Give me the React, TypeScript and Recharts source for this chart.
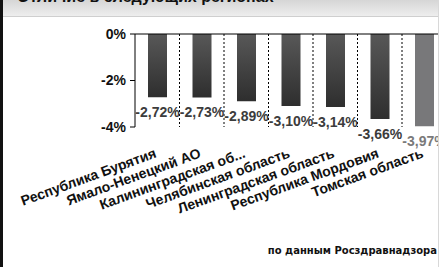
import { BarChart, Bar, XAxis, YAxis, CartesianGrid, ReferenceLine, LabelList, Cell } from 'recharts'

const regions = [
  'Республика Бурятия',
  'Ямало-Ненецкий АО',
  'Калининградская об...',
  'Челябинская область',
  'Ленинградская область',
  'Республика Мордовия',
  'Томская область',
]
const changes = [-2.72, -2.73, -2.89, -3.1, -3.14, -3.66, -3.97]
const yTicks = [0, -2, -4]
const highlight = 'Томская область'

const data = regions.map((name, i) => ({ name, value: changes[i] }))

const fmt = (v: number) => v.toFixed(2).replace('.', ',') + '%'

function RegionTick({ x, y, payload }: any) {
  return (
    <text
      transform={`translate(${x},${y + 30}) rotate(-20)`}
      textAnchor="end"
      fontSize={14}
      fontWeight="bold"
      fill="#111"
      fontFamily="'Liberation Sans', Arial, sans-serif"
    >
      {payload.value}
    </text>
  )
}

function ValueLabel({ x, y, width, height, value, index }: any) {
  const bottom = Math.max(y, y + height)
  const light = regions[index] === highlight
  return (
    <text
      x={x + width / 2}
      y={bottom + 20}
      textAnchor="middle"
      fontSize={14}
      fontWeight="bold"
      fill={light ? '#7a7a7a' : '#3c3c3c'}
      fontFamily="'Liberation Sans', Arial, sans-serif"
    >
      {fmt(value)}
    </text>
  )
}

export default function App() {
  return (
    <div
      style={{
        position: 'absolute',
        left: 0,
        top: 0,
        width: 439,
        height: 267,
        overflow: 'hidden',
        background: '#fff',
        fontFamily: "'Liberation Sans', Arial, sans-serif",
      }}
    >
      <div
        style={{
          position: 'absolute',
          left: 0,
          top: 0,
          width: 439,
          height: 16,
          background: 'linear-gradient(#d6d6d6, #eeeeee)',
          borderBottom: '1px solid #cfcfcf',
          overflow: 'hidden',
        }}
      >
        <div style={{ position: 'absolute', left: 17, top: -11, fontSize: 16, lineHeight: '16px', fontWeight: 'bold', color: '#111', whiteSpace: 'nowrap' }}>
          Отличие в следующих регионах
        </div>
      </div>
      <div style={{ position: 'absolute', left: 0, top: 0 }}>
        <BarChart width={470} height={267} data={data} margin={{ top: 34, right: 23.5, bottom: 40, left: 0 }}>
          <defs>
            <linearGradient id="barGrad" x1="0" y1="0" x2="0" y2="1">
              <stop offset="0%" stopColor="#585858" />
              <stop offset="100%" stopColor="#2e2e2e" />
            </linearGradient>
          </defs>
          <CartesianGrid
            horizontal={false}
            stroke="#000"
            strokeDasharray="2 2"
            verticalCoordinatesGenerator={({ offset }: any) =>
              regions.slice(1).map((_, i) => offset.left + ((i + 1) * offset.width) / regions.length)
            }
          />
          <XAxis dataKey="name" interval={0} axisLine={false} tickLine={false} tickSize={0} tickMargin={0} height={100} tick={<RegionTick />} />
          <YAxis
            domain={[-4, 0]}
            ticks={yTicks}
            width={135}
            axisLine={{ stroke: '#000' }}
            tickLine={{ stroke: '#000' }}
            tickSize={5}
            tickMargin={4}
            tickFormatter={(v: number) => `${v}%`}
            tick={{ fill: '#111', fontSize: 14, fontWeight: 'bold' }}
          />
          <ReferenceLine y={0} stroke="#000" />
          <Bar dataKey="value" barSize={19} isAnimationActive={false}>
            {data.map((d) => (
              <Cell key={d.name} fill={d.name === highlight ? '#78787a' : 'url(#barGrad)'} />
            ))}
            <LabelList dataKey="value" content={<ValueLabel />} />
          </Bar>
        </BarChart>
      </div>
      <div style={{ position: 'absolute', right: 2, top: 245, fontSize: 10, fontWeight: 'bold', color: '#111', fontFamily: "'DejaVu Sans', sans-serif", whiteSpace: 'nowrap' }}>
        по данным Росздравнадзора
      </div>
      <div style={{ position: 'absolute', left: 0, top: 0, width: 3, height: 267, background: '#111' }} />
      <div style={{ position: 'absolute', right: 0, top: 0, width: 1, height: 267, background: '#d8d8d8' }} />
    </div>
  )
}
